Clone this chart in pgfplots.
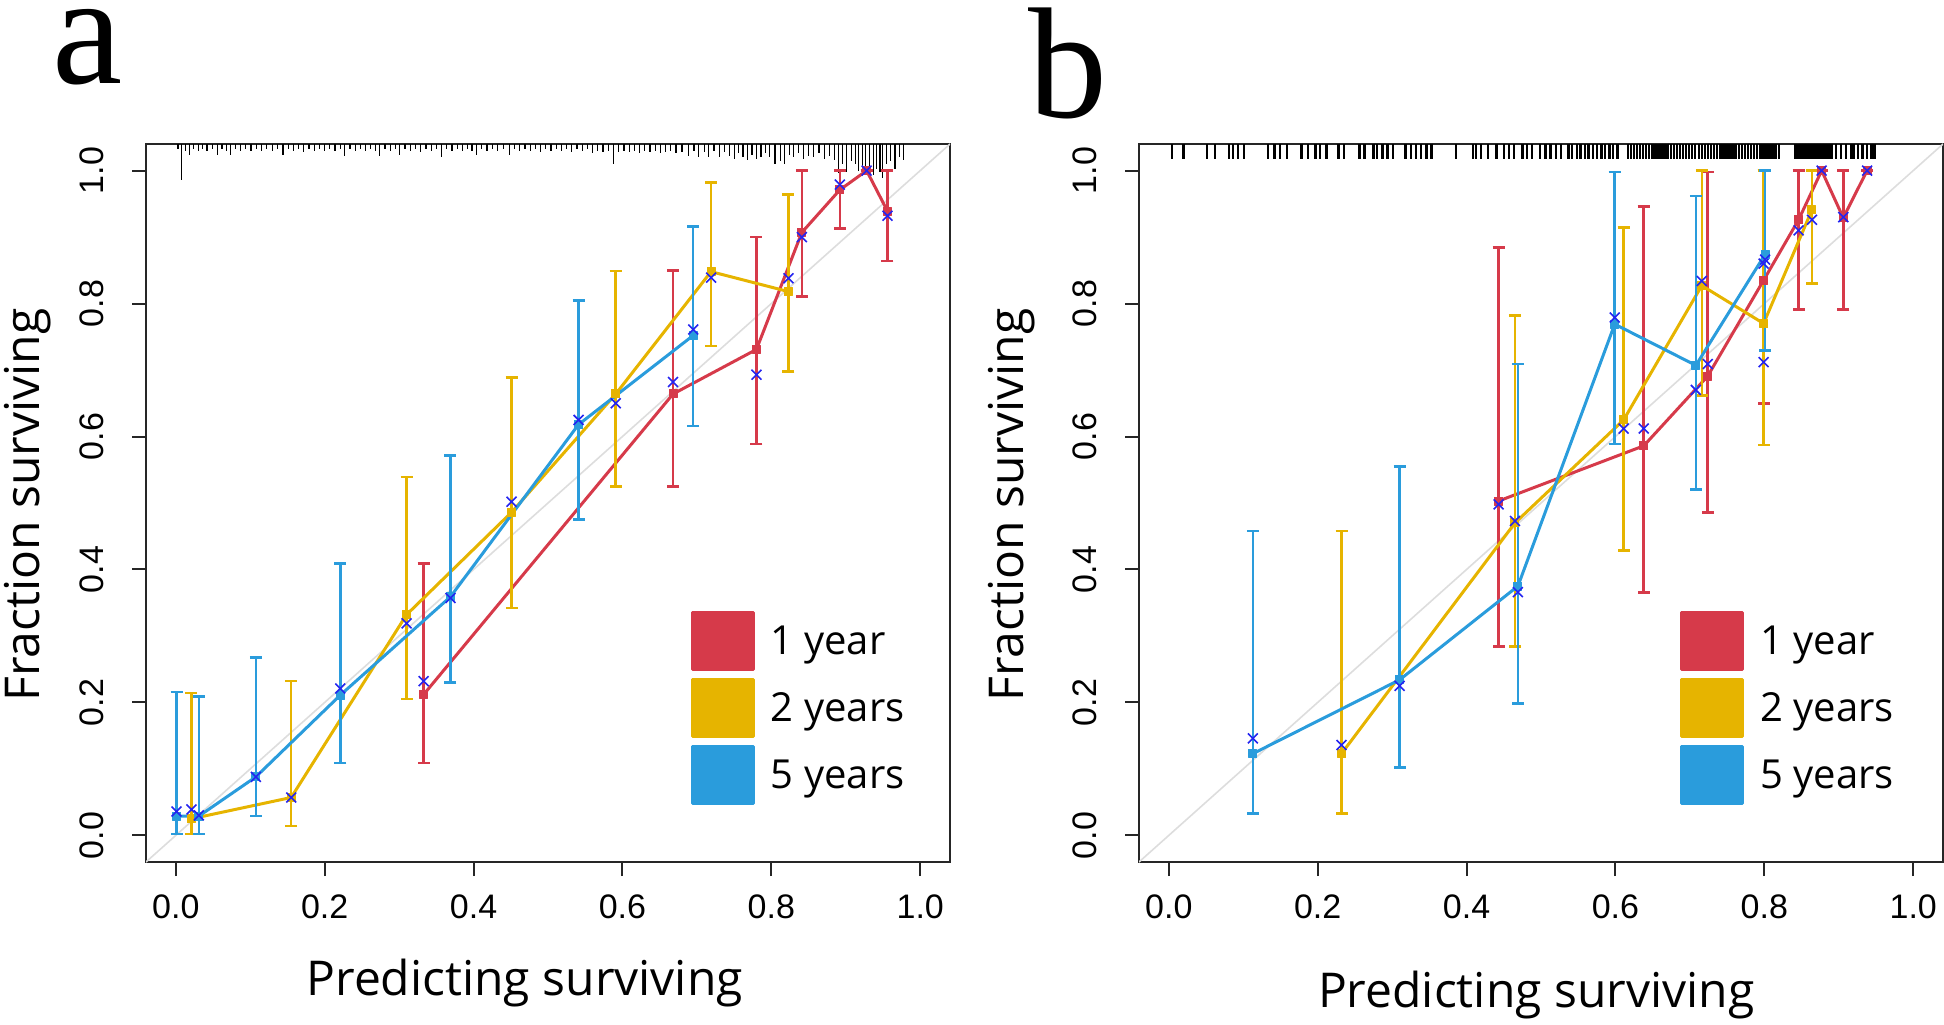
\documentclass[border=0pt]{standalone}
\usepackage{fontspec}
\setmainfont{Open Sans}
\newfontfamily\tickfont{Liberation Sans}
\newfontfamily\letterfont{Liberation Serif}
\usepackage{pgfplots}
\pgfplotsset{compat=1.18}
\usepackage{pgfplotstable}

\definecolor{cred}{HTML}{D63A4A}
\definecolor{cyel}{HTML}{E6B400}
\definecolor{cblu}{HTML}{2A9CDC}
\definecolor{cx}{HTML}{2424F0}
\definecolor{cdiag}{HTML}{DDDDDD}

% ---------- panel a ----------
\pgfplotstableread{
x y lo hi cy
0.333 0.212 0.109 0.409 0.232
0.668 0.664 0.525 0.850 0.682
0.780 0.731 0.589 0.900 0.693
0.841 0.907 0.811 1.000 0.900
0.892 0.971 0.913 1.000 0.979
0.928 1.000 1.000 1.000 1.000
0.956 0.939 0.864 1.000 0.932
}\aRed
\pgfplotstableread{
x y lo hi cy
0.021 0.025 0.002 0.214 0.039
0.155 0.057 0.014 0.232 0.057
0.310 0.332 0.205 0.539 0.319
0.451 0.486 0.342 0.689 0.502
0.591 0.664 0.525 0.849 0.650
0.719 0.848 0.736 0.982 0.839
0.823 0.818 0.698 0.964 0.838
}\aYel
\pgfplotstableread{
x y lo hi cy
0.001 0.029 0.002 0.216 0.036
0.031 0.029 0.002 0.209 0.030
0.1075 0.088 0.029 0.268 0.088
0.221 0.211 0.109 0.409 0.221
0.369 0.359 0.230 0.571 0.357
0.541 0.618 0.475 0.805 0.625
0.695 0.752 0.616 0.916 0.761
}\aBlu
\pgfplotstableread{
x e
0.003 0.008
0.008 0.054
0.013 0.010
0.018 0.016
0.024 0.008
0.030 0.010
0.036 0.008
0.042 0.010
0.049 0.008
0.056 0.016
0.062 0.008
0.068 0.010
0.074 0.016
0.080 0.008
0.087 0.010
0.094 0.008
0.101 0.010
0.108 0.008
0.115 0.010
0.122 0.008
0.130 0.010
0.137 0.008
0.144 0.016
0.151 0.008
0.158 0.010
0.165 0.008
0.172 0.012
0.179 0.008
0.186 0.010
0.193 0.008
0.200 0.010
0.207 0.008
0.214 0.010
0.221 0.008
0.227 0.018
0.234 0.008
0.241 0.010
0.248 0.008
0.255 0.010
0.262 0.008
0.268 0.010
0.274 0.018
0.281 0.008
0.288 0.010
0.295 0.008
0.301 0.016
0.308 0.008
0.315 0.010
0.322 0.008
0.329 0.012
0.336 0.008
0.343 0.010
0.350 0.008
0.357 0.020
0.364 0.008
0.371 0.010
0.378 0.008
0.385 0.010
0.392 0.008
0.398 0.010
0.404 0.016
0.411 0.008
0.418 0.010
0.425 0.008
0.432 0.010
0.440 0.008
0.448 0.016
0.455 0.008
0.462 0.010
0.469 0.008
0.476 0.010
0.483 0.008
0.490 0.012
0.497 0.008
0.504 0.010
0.511 0.008
0.518 0.010
0.525 0.008
0.532 0.012
0.539 0.008
0.546 0.010
0.553 0.008
0.560 0.014
0.567 0.010
0.574 0.012
0.581 0.010
0.588 0.030
0.595 0.012
0.602 0.010
0.609 0.012
0.616 0.010
0.623 0.014
0.630 0.010
0.637 0.012
0.644 0.010
0.651 0.014
0.658 0.012
0.665 0.010
0.672 0.014
0.680 0.012
0.689 0.018
0.696 0.010
0.702 0.020
0.710 0.012
0.716 0.020
0.723 0.010
0.730 0.020
0.737 0.012
0.744 0.018
0.750 0.022
0.756 0.014
0.762 0.020
0.768 0.024
0.774 0.016
0.780 0.022
0.786 0.020
0.792 0.014
0.798 0.020
0.805 0.030
0.812 0.026
0.818 0.030
0.824 0.016
0.830 0.020
0.836 0.014
0.843 0.022
0.850 0.018
0.857 0.020
0.864 0.014
0.871 0.022
0.878 0.018
0.885 0.024
0.890 0.044
0.896 0.030
0.901 0.042
0.908 0.026
0.913 0.030
0.917 0.040
0.922 0.036
0.927 0.044
0.932 0.040
0.937 0.046
0.941 0.038
0.946 0.042
0.949 0.051
0.955 0.030
0.960 0.026
0.966 0.038
0.972 0.020
0.978 0.024
}\aRug

% ---------- panel b ----------
\pgfplotstableread{
x y lo hi cy
0.443 0.503 0.284 0.884 0.498
0.638 0.586 0.365 0.946 0.612
0.724 0.691 0.486 0.998 0.709
0.799 0.835 0.650 1.000 0.860
0.846 0.926 0.791 1.000 0.910
0.877 1.000 1.000 1.000 1.000
0.906 0.929 0.791 1.000 0.930
0.938 1.000 1.000 1.000 1.000
}\bRed
\pgfplotstableread{
x y lo hi cy
0.232 0.123 0.033 0.458 0.136
0.465 0.470 0.284 0.782 0.473
0.611 0.625 0.429 0.914 0.612
0.716 0.827 0.662 1.000 0.834
0.799 0.770 0.587 1.000 0.712
0.864 0.941 0.830 1.000 0.926
}\bYel
\pgfplotstableread{
x y lo hi cy
0.113 0.123 0.033 0.458 0.146
0.310 0.234 0.102 0.555 0.225
0.469 0.375 0.198 0.709 0.366
0.599 0.769 0.589 0.998 0.779
0.708 0.707 0.520 0.962 0.670
0.801 0.874 0.729 1.000 0.866
}\bBlu
% rug positions, panel b (each mark 0.022 long)
\pgfplotstableread{
x e
0.004 0.022
0.020 0.022
0.051 0.022
0.062 0.022
0.081 0.022
0.086 0.022
0.093 0.022
0.101 0.022
0.133 0.022
0.142 0.022
0.149 0.022
0.159 0.022
0.178 0.022
0.187 0.022
0.197 0.022
0.203 0.022
0.212 0.022
0.228 0.022
0.235 0.022
0.256 0.022
0.263 0.022
0.275 0.022
0.280 0.022
0.287 0.022
0.294 0.022
0.301 0.022
0.318 0.022
0.325 0.022
0.332 0.022
0.339 0.022
0.346 0.022
0.353 0.022
0.386 0.022
0.409 0.022
0.413 0.022
0.419 0.022
0.429 0.022
0.440 0.022
0.450 0.022
0.457 0.022
0.464 0.022
0.475 0.022
0.481 0.022
0.488 0.022
0.499 0.022
0.506 0.022
0.513 0.022
0.520 0.022
0.527 0.022
0.537 0.022
0.542 0.022
0.548 0.022
0.553 0.022
0.559 0.022
0.564 0.022
0.570 0.022
0.575 0.022
0.581 0.022
0.586 0.022
0.592 0.022
0.597 0.022
0.603 0.022
0.617 0.022
0.621 0.022
0.625 0.022
0.629 0.022
0.633 0.022
0.637 0.022
0.641 0.022
0.645 0.022
0.650 0.022
0.654 0.022
0.658 0.022
0.662 0.022
0.666 0.022
0.670 0.022
0.675 0.022
0.679 0.022
0.683 0.022
0.687 0.022
0.691 0.022
0.695 0.022
0.699 0.022
0.703 0.022
0.707 0.022
0.712 0.022
0.716 0.022
0.720 0.022
0.724 0.022
0.728 0.022
0.732 0.022
0.736 0.022
0.741 0.022
0.745 0.022
0.749 0.022
0.753 0.022
0.757 0.022
0.761 0.022
0.766 0.022
0.770 0.022
0.774 0.022
0.778 0.022
0.782 0.022
0.786 0.022
0.790 0.022
0.795 0.022
0.799 0.022
0.803 0.022
0.807 0.022
0.811 0.022
0.815 0.022
0.820 0.022
0.842 0.022
0.846 0.022
0.850 0.022
0.854 0.022
0.858 0.022
0.862 0.022
0.866 0.022
0.870 0.022
0.874 0.022
0.878 0.022
0.882 0.022
0.886 0.022
0.890 0.022
0.896 0.022
0.903 0.022
0.910 0.022
0.916 0.022
0.920 0.022
0.926 0.022
0.932 0.022
0.938 0.022
0.944 0.022
0.948 0.022
}\bRug

\pgfplotsset{
  calib/.style={
    scale only axis, width=402pt, height=359pt,
    xmin=-0.04, xmax=1.04, ymin=-0.04, ymax=1.04,
    axis line style={line width=1pt, draw=black!85},
    tick style={line width=1pt, draw=black!85},
    major tick length=7pt, tick align=outside,
    xtick pos=bottom, ytick pos=left,
    xtick={0,0.2,0.4,0.6,0.8,1}, ytick={0,0.2,0.4,0.6,0.8,1},
    xticklabels={0.0,0.2,0.4,0.6,0.8,1.0},
    yticklabels={0.0,0.2,0.4,0.6,0.8,1.0},
    /pgf/number format/assume math mode=true,
    ticklabel style={font=\tickfont\fontsize{17}{19}\selectfont},
    xticklabel style={yshift=-6pt},
    yticklabel style={xshift=-10.5pt, rotate=90, anchor=south},
    xlabel={Predicting surviving}, ylabel={Fraction surviving},
    legend image code/.code={\fill (0pt,-14.25pt) rectangle (30.5pt,14.25pt);},
    legend style={draw=none, fill=none, inner sep=0pt, outer sep=0pt,
      row sep=3.5pt, font=\fontsize{20}{24}\selectfont,
      nodes={inner sep=0pt},
      /tikz/every odd column/.append style={column sep=8pt}},
    legend cell align=left,
  },
  ser/.style={color=#1, line width=1.5pt, line join=round,
    mark=square*, mark size=2pt, mark options={fill=#1, draw=#1, line width=0.5pt},
    error bars/.cd, y dir=both, y explicit,
    error bar style={line width=1.3pt, #1},
    error mark options={line width=1.3pt, mark size=3pt, #1, rotate=90}},
  crs/.style={forget plot, only marks, mark=x, mark size=3.5pt, color=cx, mark options={line width=0.8pt}},
}

\begin{document}
\begin{tikzpicture}
\useasboundingbox (0,0) rectangle (972pt,512pt);
\node[anchor=base west, inner sep=0pt, font=\letterfont\fontsize{79}{79}\selectfont] at (26pt,470pt) {a};
\node[anchor=base west, inner sep=0pt, font=\letterfont\fontsize{79}{79}\selectfont] at (514pt,453pt) {b};

% ===== panel a =====
\begin{axis}[calib, at={(73pt,81pt)}, anchor=south west,
  every axis x label/.style={at={(axis description cs:0.471,-0.1866)}, anchor=base, font=\fontsize{24}{28}\selectfont},
  every axis y label/.style={at={(axis description cs:-0.147,0.497)}, rotate=90, anchor=center, font=\fontsize{24}{28}\selectfont},
  legend style={at={(axis description cs:0.6778,0.349)}, anchor=north west}]
\addplot[forget plot, cdiag, line width=0.8pt] coordinates {(-0.04,-0.04) (1.04,1.04)};
\addplot[forget plot, draw=none, mark=none, error bars/.cd, y dir=minus, y explicit, error mark=none,
  error bar style={draw=black, line width=0.6pt}] table[x=x, y expr=1.04, y error minus=e] {\aRug};
\addplot[ser=cred] table[x=x, y=y, y error plus expr=\thisrow{hi}-\thisrow{y}, y error minus expr=\thisrow{y}-\thisrow{lo}] {\aRed};
\addlegendentry{1 year}
\addplot[crs] table[x=x, y=cy] {\aRed};
\addplot[ser=cyel] table[x=x, y=y, y error plus expr=\thisrow{hi}-\thisrow{y}, y error minus expr=\thisrow{y}-\thisrow{lo}] {\aYel};
\addlegendentry{2 years}
\addplot[crs] table[x=x, y=cy] {\aYel};
\addplot[ser=cblu] table[x=x, y=y, y error plus expr=\thisrow{hi}-\thisrow{y}, y error minus expr=\thisrow{y}-\thisrow{lo}] {\aBlu};
\addlegendentry{5 years}
\addplot[crs] table[x=x, y=cy] {\aBlu};
\end{axis}

% ===== panel b =====
\begin{axis}[calib, at={(569.5pt,81pt)}, anchor=south west,
  every axis x label/.style={at={(axis description cs:0.494,-0.202)}, anchor=base, font=\fontsize{24}{28}\selectfont},
  every axis y label/.style={at={(axis description cs:-0.158,0.497)}, rotate=90, anchor=center, font=\fontsize{24}{28}\selectfont},
  legend style={at={(axis description cs:0.6731,0.349)}, anchor=north west}]
\addplot[forget plot, cdiag, line width=0.8pt] coordinates {(-0.04,-0.04) (1.04,1.04)};
\addplot[forget plot, draw=none, mark=none, error bars/.cd, y dir=minus, y explicit, error mark=none,
  error bar style={draw=black, line width=1.2pt}] table[x=x, y expr=1.04, y error minus=e] {\bRug};
\addplot[ser=cred] table[x=x, y=y, y error plus expr=\thisrow{hi}-\thisrow{y}, y error minus expr=\thisrow{y}-\thisrow{lo}] {\bRed};
\addlegendentry{1 year}
\addplot[crs] table[x=x, y=cy] {\bRed};
\addplot[ser=cyel] table[x=x, y=y, y error plus expr=\thisrow{hi}-\thisrow{y}, y error minus expr=\thisrow{y}-\thisrow{lo}] {\bYel};
\addlegendentry{2 years}
\addplot[crs] table[x=x, y=cy] {\bYel};
\addplot[ser=cblu] table[x=x, y=y, y error plus expr=\thisrow{hi}-\thisrow{y}, y error minus expr=\thisrow{y}-\thisrow{lo}] {\bBlu};
\addlegendentry{5 years}
\addplot[crs] table[x=x, y=cy] {\bBlu};
\end{axis}
\end{tikzpicture}
\end{document}
